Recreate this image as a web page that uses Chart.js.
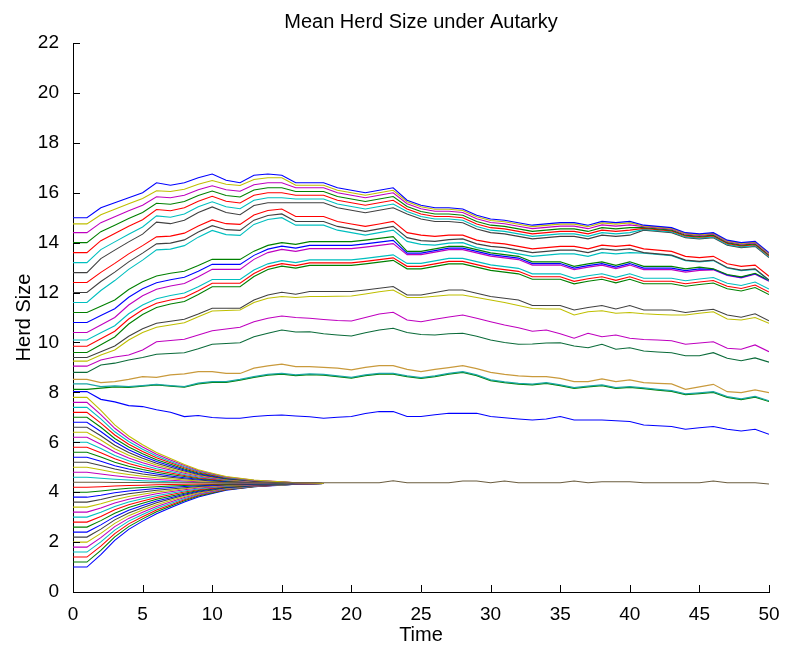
<!DOCTYPE html>
<html>
<head>
<meta charset="utf-8">
<script src="https://cdn.jsdelivr.net/npm/chart.js@4.4.1/dist/chart.umd.min.js"></script>
<style>
  body { margin: 0; background: #fff; }
  canvas { display: block; }
</style>
</head>
<body>
<canvas id="herdChart" width="786" height="654"></canvas>
<script>
// ---------------- data ----------------
const timeSteps = [0,1,2,3,4,5,6,7,8,9,10,11,12,13,14,15,16,17,18,19,20,21,22,23,24,25,
                   26,27,28,29,30,31,32,33,34,35,36,37,38,39,40,41,42,43,44,45,46,47,48,49,50];
const xTickValues = [0,5,10,15,20,25,30,35,40,45,50];
const yTickValues = [0,2,4,6,8,10,12,14,16,18,20,22];

// herds that start small (below ~8) and settle near 4.4 ; values for t = 0..18
const convergingHerds = [
  [1.0,1.0,1.5,2.07,2.51,2.84,3.14,3.38,3.61,3.81,3.95,4.08,4.15,4.22,4.25,4.28,4.32,4.33,4.35],
  [1.2,1.2,1.67,2.21,2.62,2.93,3.22,3.44,3.66,3.85,3.97,4.1,4.16,4.22,4.26,4.29,4.32,4.33,4.35],
  [1.4,1.4,1.84,2.34,2.73,3.02,3.29,3.49,3.7,3.88,4.0,4.11,4.17,4.23,4.26,4.29,4.32,4.34,4.35],
  [1.6,1.6,2.01,2.48,2.84,3.11,3.36,3.55,3.74,3.91,4.02,4.13,4.18,4.24,4.27,4.29,4.32,4.34,4.35],
  [1.8,1.8,2.18,2.62,2.95,3.2,3.43,3.61,3.79,3.94,4.04,4.15,4.2,4.25,4.27,4.3,4.32,4.34,4.35],
  [2.0,2.0,2.35,2.75,3.06,3.29,3.5,3.67,3.83,3.97,4.07,4.16,4.21,4.26,4.28,4.3,4.33,4.34,4.35],
  [2.2,2.2,2.52,2.89,3.17,3.38,3.58,3.73,3.88,4.01,4.09,4.18,4.22,4.26,4.29,4.31,4.33,4.34,4.35],
  [2.4,2.4,2.69,3.02,3.28,3.47,3.65,3.78,3.92,4.04,4.12,4.19,4.23,4.27,4.29,4.31,4.33,4.34,4.35],
  [2.6,2.6,2.86,3.16,3.39,3.56,3.72,3.84,3.96,4.07,4.14,4.21,4.24,4.28,4.3,4.31,4.33,4.34,4.35],
  [2.8,2.8,3.03,3.3,3.5,3.65,3.79,3.9,4.01,4.1,4.16,4.23,4.26,4.29,4.3,4.32,4.33,4.34,4.35],
  [3.0,3.0,3.2,3.43,3.61,3.74,3.86,3.96,4.05,4.13,4.19,4.24,4.27,4.3,4.31,4.32,4.34,4.34,4.35],
  [3.2,3.2,3.37,3.57,3.72,3.83,3.94,4.02,4.1,4.17,4.21,4.26,4.28,4.3,4.32,4.33,4.34,4.34,4.35],
  [3.4,3.4,3.54,3.7,3.83,3.92,4.01,4.07,4.14,4.2,4.24,4.27,4.29,4.31,4.32,4.33,4.34,4.35,4.35],
  [3.6,3.6,3.71,3.84,3.94,4.01,4.08,4.13,4.18,4.23,4.26,4.29,4.3,4.32,4.33,4.33,4.34,4.35,4.35],
  [3.8,3.8,3.88,3.98,4.05,4.1,4.15,4.19,4.23,4.26,4.28,4.31,4.32,4.33,4.33,4.34,4.34,4.35,4.35],
  [4.0,4.0,4.05,4.11,4.16,4.19,4.22,4.25,4.27,4.29,4.31,4.32,4.33,4.34,4.34,4.34,4.35,4.35,4.35],
  [4.2,4.2,4.22,4.25,4.27,4.28,4.3,4.31,4.32,4.33,4.33,4.34,4.34,4.35,4.35,4.35,4.35,4.35,4.35],
  [4.6,4.6,4.56,4.52,4.49,4.46,4.44,4.42,4.41,4.39,4.38,4.37,4.37,4.36,4.36,4.35,4.35,4.35,4.35],
  [4.8,4.8,4.73,4.66,4.6,4.55,4.51,4.48,4.45,4.42,4.4,4.39,4.38,4.37,4.36,4.36,4.35,4.35,4.35],
  [5.0,5.0,4.9,4.79,4.71,4.64,4.58,4.54,4.49,4.45,4.43,4.4,4.39,4.38,4.37,4.36,4.36,4.35,4.35],
  [5.2,5.2,5.07,4.93,4.82,4.73,4.66,4.6,4.54,4.49,4.45,4.42,4.4,4.38,4.38,4.37,4.36,4.35,4.35],
  [5.4,5.4,5.24,5.06,4.93,4.82,4.73,4.65,4.58,4.52,4.48,4.43,4.41,4.39,4.38,4.37,4.36,4.36,4.35],
  [5.6,5.6,5.41,5.2,5.04,4.91,4.8,4.71,4.63,4.55,4.5,4.45,4.43,4.4,4.39,4.38,4.36,4.36,4.35],
  [5.8,5.8,5.58,5.34,5.15,5.0,4.87,4.77,4.67,4.58,4.52,4.47,4.44,4.41,4.39,4.38,4.36,4.36,4.35],
  [6.0,6.0,5.75,5.47,5.26,5.09,4.94,4.83,4.71,4.61,4.55,4.48,4.45,4.42,4.4,4.38,4.37,4.36,4.35],
  [6.2,6.2,5.92,5.61,5.37,5.18,5.02,4.89,4.76,4.65,4.57,4.5,4.46,4.42,4.41,4.39,4.37,4.36,4.35],
  [6.4,6.4,6.09,5.74,5.48,5.27,5.09,4.94,4.8,4.68,4.6,4.51,4.47,4.43,4.41,4.39,4.37,4.36,4.35],
  [6.6,6.6,6.26,5.88,5.59,5.36,5.16,5.0,4.85,4.71,4.62,4.53,4.49,4.44,4.42,4.4,4.37,4.36,4.35],
  [6.8,6.8,6.43,6.02,5.7,5.45,5.23,5.06,4.89,4.74,4.64,4.55,4.5,4.45,4.42,4.4,4.37,4.36,4.35],
  [7.0,7.0,6.6,6.15,5.81,5.54,5.3,5.12,4.93,4.77,4.67,4.56,4.51,4.46,4.43,4.4,4.38,4.36,4.35],
  [7.2,7.2,6.77,6.29,5.92,5.63,5.38,5.18,4.98,4.81,4.69,4.58,4.52,4.46,4.44,4.41,4.38,4.36,4.35],
  [7.4,7.4,6.94,6.42,6.03,5.72,5.45,5.23,5.02,4.84,4.72,4.59,4.53,4.47,4.44,4.41,4.38,4.37,4.35],
  [7.6,7.6,7.11,6.56,6.14,5.81,5.52,5.29,5.07,4.87,4.74,4.61,4.55,4.48,4.45,4.42,4.38,4.37,4.35],
  [7.8,7.8,7.28,6.7,6.25,5.9,5.59,5.35,5.11,4.9,4.76,4.63,4.56,4.49,4.45,4.42,4.38,4.37,4.35]
];

// the settled herd that stays on top of the converged bundle up to t = 50
const settledHerd = [4.4,4.4,4.4,4.39,4.39,4.39,4.38,4.38,4.38,4.38,4.38,4.38,4.38,4.38,4.38,4.38,4.38,
  4.38,4.38,4.38,4.38,4.38,4.38,4.46,4.38,4.38,4.38,4.38,4.45,4.45,4.38,4.45,4.38,4.38,4.38,4.38,4.45,
  4.38,4.42,4.42,4.42,4.38,4.38,4.38,4.38,4.38,4.45,4.38,4.38,4.38,4.33];

// herds that start above ~8 ; values for t = 0..50
const herdFalling = [8.03,8.03,7.72,7.62,7.47,7.43,7.3,7.2,7.03,7.07,6.99,6.96,6.96,7.03,7.07,7.09,7.05,
  7.02,6.96,7.0,7.03,7.15,7.23,7.23,7.03,7.03,7.1,7.16,7.16,7.16,7.03,6.98,6.93,6.89,6.93,7.03,6.89,6.89,
  6.89,6.86,6.83,6.69,6.66,6.63,6.52,6.58,6.63,6.52,6.45,6.52,6.32];
const herdLowGreen = [8.12,8.12,8.17,8.22,8.2,8.25,8.3,8.25,8.21,8.34,8.4,8.4,8.49,8.6,8.69,8.73,8.67,
  8.71,8.69,8.63,8.57,8.67,8.73,8.73,8.63,8.56,8.63,8.73,8.8,8.67,8.47,8.39,8.33,8.3,8.36,8.27,8.16,8.22,
  8.27,8.16,8.2,8.15,8.09,8.04,7.91,7.95,8.0,7.8,7.71,7.81,7.63];
const herdLowCyan = [8.34,8.34,8.23,8.26,8.23,8.27,8.32,8.27,8.23,8.37,8.43,8.43,8.52,8.63,8.72,8.76,8.7,
  8.74,8.72,8.66,8.6,8.7,8.76,8.76,8.66,8.59,8.66,8.76,8.83,8.7,8.5,8.42,8.36,8.33,8.39,8.3,8.19,8.25,8.3,
  8.19,8.23,8.18,8.12,8.07,7.94,7.98,8.03,7.83,7.74,7.84,7.66];
const herdLowOrange = [8.52,8.52,8.39,8.43,8.52,8.63,8.6,8.7,8.74,8.83,8.83,8.76,8.76,8.97,9.06,9.13,9.03,
  9.03,9.0,8.97,8.9,9.0,9.07,9.07,8.92,8.83,8.92,8.99,9.07,8.95,8.8,8.72,8.66,8.63,8.63,8.56,8.43,8.43,
  8.54,8.43,8.5,8.39,8.36,8.34,8.12,8.22,8.32,8.03,7.99,8.1,7.99];
const herdMidGreen = [8.8,8.8,9.1,9.17,9.3,9.4,9.53,9.56,9.59,9.75,9.93,9.96,9.99,10.23,10.37,10.5,10.42,
  10.43,10.35,10.3,10.26,10.39,10.5,10.57,10.4,10.32,10.3,10.35,10.37,10.25,10.1,10.0,9.93,9.94,9.98,9.99,
  9.86,9.79,9.93,9.73,9.79,9.66,9.62,9.59,9.47,9.47,9.59,9.37,9.27,9.38,9.21];
const herdMidMagenta = [9.05,9.05,9.3,9.42,9.5,9.7,10.03,10.08,10.13,10.3,10.47,10.54,10.61,10.83,10.97,
  11.06,11.0,10.97,10.92,10.88,10.86,11.0,11.14,11.21,10.9,10.83,10.93,11.02,11.1,10.97,10.83,10.7,10.59,
  10.45,10.5,10.35,10.17,10.37,10.23,10.3,10.17,10.12,10.1,10.07,9.93,9.98,10.03,9.77,9.73,9.9,9.63];
const herdMidYellow = [9.25,9.25,9.5,9.7,10.1,10.4,10.61,10.7,10.79,11.03,11.26,11.28,11.3,11.6,11.77,
  11.84,11.8,11.84,11.84,11.85,11.86,11.94,12.03,12.1,11.8,11.8,11.85,11.9,11.9,11.8,11.7,11.6,11.48,
  11.36,11.34,11.34,11.1,11.23,11.27,11.17,11.2,11.15,11.12,11.1,11.1,11.17,11.23,10.94,10.9,11.0,10.77];
const herdMidGrey = [9.4,9.4,9.63,9.86,10.25,10.55,10.77,10.85,10.93,11.14,11.37,11.37,11.37,11.7,11.9,
  12.01,11.93,12.04,12.04,12.04,12.04,12.1,12.17,12.24,11.9,11.9,12.0,12.1,12.1,11.97,11.84,11.77,11.7,
  11.48,11.48,11.48,11.3,11.4,11.48,11.34,11.48,11.3,11.3,11.3,11.2,11.27,11.33,11.1,11.01,11.15,10.87];
const herdTierD = [
  [9.6,9.6,9.91,10.22,10.74,11.12,11.4,11.54,11.64,11.92,12.23,12.23,12.23,12.64,12.92,13.06,12.98,13.09,
   13.09,13.09,13.09,13.15,13.22,13.29,12.95,12.95,13.05,13.15,13.15,13.02,12.89,12.82,12.75,12.53,12.53,
   12.53,12.35,12.45,12.53,12.39,12.53,12.35,12.35,12.35,12.25,12.32,12.38,12.15,12.06,12.2,11.92],
  [9.85,9.85,10.15,10.45,10.94,11.31,11.57,11.7,11.8,12.07,12.37,12.37,12.37,12.76,13.03,13.16,13.08,13.19,
   13.19,13.19,13.19,13.25,13.32,13.39,13.05,13.05,13.15,13.25,13.25,13.12,12.99,12.92,12.85,12.63,12.63,
   12.63,12.45,12.55,12.63,12.49,12.63,12.45,12.45,12.45,12.35,12.42,12.48,12.25,12.16,12.3,12.02],
  [10.1,10.1,10.39,10.67,11.15,11.5,11.75,11.88,11.98,12.23,12.52,12.52,12.52,12.9,13.15,13.28,13.2,13.31,
   13.31,13.31,13.31,13.37,13.44,13.51,13.17,13.17,13.27,13.37,13.37,13.24,13.11,13.04,12.97,12.75,12.75,
   12.75,12.57,12.67,12.75,12.61,12.75,12.57,12.57,12.57,12.47,12.54,12.6,12.37,12.28,12.42,12.14]
];
const herdTierC = [
  [10.4,10.4,10.7,11.0,11.5,11.87,12.13,12.26,12.36,12.63,12.93,12.93,12.93,13.33,13.6,13.73,13.65,13.76,
   13.76,13.76,13.76,13.82,13.89,13.96,13.52,13.52,13.62,13.72,13.72,13.59,13.46,13.39,13.32,13.1,13.1,
   13.1,12.92,13.02,13.1,12.96,13.1,12.92,12.92,12.92,12.82,12.89,12.91,12.68,12.59,12.73,12.45],
  [10.8,10.8,11.08,11.35,11.81,12.15,12.39,12.51,12.61,12.85,13.13,13.13,13.13,13.49,13.74,13.86,13.78,
   13.89,13.89,13.89,13.89,13.95,14.02,14.09,13.58,13.58,13.68,13.78,13.78,13.65,13.52,13.45,13.38,13.16,
   13.16,13.16,12.98,13.08,13.16,13.02,13.16,12.98,12.98,12.98,12.88,12.95,12.93,12.7,12.61,12.75,12.47],
  [11.2,11.2,11.45,11.7,12.12,12.43,12.66,12.77,12.85,13.08,13.33,13.33,13.33,13.66,13.89,14.0,13.93,
   14.04,14.04,14.04,14.04,14.1,14.17,14.24,13.65,13.65,13.75,13.85,13.85,13.72,13.59,13.52,13.45,13.23,
   13.23,13.23,13.05,13.15,13.23,13.09,13.23,13.05,13.05,13.05,12.95,13.02,12.95,12.72,12.63,12.77,12.49]
];
const herdTierB = [
  [11.6,11.6,12.08,12.48,12.93,13.3,13.71,13.74,13.88,14.22,14.49,14.32,14.29,14.73,14.93,15.0,14.7,14.7,
   14.7,14.5,14.4,14.3,14.4,14.5,14.05,13.93,13.9,13.98,14.0,13.8,13.7,13.65,13.55,13.45,13.5,13.55,13.55,
   13.45,13.6,13.55,13.6,13.58,13.53,13.48,13.28,13.23,13.28,12.98,12.88,12.93,12.48],
  [12.0,12.0,12.44,12.82,13.23,13.58,13.95,13.98,14.11,14.43,14.68,14.52,14.49,14.9,15.09,15.15,14.85,
   14.85,14.85,14.65,14.55,14.45,14.55,14.65,14.2,14.08,14.05,14.12,14.15,13.95,13.85,13.8,13.7,13.6,
   13.65,13.7,13.7,13.6,13.75,13.7,13.75,13.6,13.55,13.5,13.3,13.25,13.3,13.0,12.9,12.95,12.5],
  [12.4,12.4,12.81,13.17,13.55,13.88,14.23,14.26,14.38,14.67,14.91,14.76,14.73,15.11,15.29,15.35,15.05,
   15.05,15.05,14.85,14.75,14.65,14.75,14.85,14.4,14.3,14.25,14.3,14.3,14.1,14.0,13.95,13.85,13.75,13.8,
   13.85,13.85,13.75,13.9,13.85,13.9,13.75,13.7,13.65,13.45,13.4,13.45,13.15,13.05,13.1,12.65]
];
const herdTierA = [
  [12.8,12.8,13.36,13.7,14.03,14.34,14.82,14.76,14.9,15.21,15.43,15.21,15.12,15.49,15.6,15.6,15.6,15.6,
   15.6,15.4,15.3,15.2,15.3,15.4,15.15,14.95,14.85,14.85,14.8,14.55,14.4,14.35,14.25,14.15,14.2,14.25,
   14.25,14.15,14.3,14.25,14.3,14.5,14.45,14.4,14.2,14.15,14.2,13.9,13.8,13.85,13.4],
  [13.2,13.2,13.72,14.03,14.34,14.63,15.07,15.02,15.15,15.44,15.64,15.44,15.36,15.7,15.8,15.8,15.75,15.75,
   15.75,15.55,15.45,15.35,15.45,15.55,15.25,15.05,14.95,14.95,14.9,14.65,14.5,14.45,14.35,14.25,14.3,
   14.35,14.35,14.25,14.4,14.35,14.4,14.53,14.48,14.43,14.23,14.18,14.23,13.93,13.83,13.88,13.43],
  [13.6,13.6,14.08,14.37,14.66,14.92,15.33,15.28,15.4,15.66,15.86,15.66,15.59,15.9,16.0,16.0,15.9,15.9,
   15.9,15.7,15.6,15.5,15.6,15.7,15.35,15.15,15.05,15.05,15.0,14.75,14.6,14.55,14.45,14.35,14.4,14.45,
   14.45,14.35,14.5,14.45,14.5,14.57,14.52,14.47,14.27,14.22,14.27,13.97,13.87,13.92,13.47],
  [14.0,14.0,14.44,14.7,14.97,15.21,15.58,15.54,15.65,15.89,16.07,15.89,15.83,16.11,16.2,16.2,16.05,
   16.05,16.05,15.85,15.75,15.65,15.75,15.85,15.45,15.25,15.15,15.15,15.1,14.85,14.7,14.65,14.55,14.45,
   14.5,14.55,14.55,14.45,14.6,14.55,14.6,14.6,14.55,14.5,14.3,14.25,14.3,14.0,13.9,13.95,13.5],
  [14.4,14.4,14.8,15.04,15.28,15.5,15.84,15.8,15.9,16.12,16.28,16.12,16.06,16.32,16.4,16.4,16.2,16.2,16.2,
   16.0,15.9,15.8,15.9,16.0,15.56,15.36,15.26,15.26,15.21,14.96,14.81,14.76,14.66,14.56,14.61,14.66,14.66,
   14.56,14.71,14.66,14.71,14.64,14.59,14.54,14.34,14.29,14.34,14.04,13.94,13.99,13.54],
  [14.75,14.75,15.12,15.34,15.56,15.77,16.08,16.05,16.14,16.34,16.49,16.34,16.29,16.53,16.6,16.6,16.3,
   16.3,16.3,16.1,16.0,15.9,16.0,16.1,15.64,15.44,15.34,15.34,15.29,15.04,14.89,14.84,14.74,14.64,14.69,
   14.74,14.74,14.64,14.79,14.74,14.79,14.67,14.62,14.57,14.37,14.32,14.37,14.07,13.97,14.02,13.57],
  [15.0,15.0,15.4,15.6,15.8,16.0,16.4,16.3,16.4,16.6,16.75,16.5,16.4,16.7,16.75,16.7,16.4,16.4,16.4,16.2,
   16.1,16.0,16.1,16.2,15.7,15.5,15.4,15.4,15.35,15.1,14.95,14.9,14.8,14.7,14.75,14.8,14.8,14.7,14.85,
   14.8,14.85,14.7,14.65,14.6,14.4,14.35,14.4,14.1,14.0,14.05,13.6]
];

// ---------------- styling ----------------
const matlabColors = ['#0000ff', '#008000', '#ff0000', '#00bfbf', '#bf00bf', '#bfbf00', '#404040'];
const col = { b: '#0000ff', g: '#008000', r: '#ff0000', c: '#00bfbf', m: '#bf00bf', y: '#bfbf00', k: '#404040' };
const fontFamily = '"Liberation Sans", Arial, Helvetica, sans-serif';
const tickFont = { family: fontFamily, size: 19 };
const labelFont = { family: fontFamily, size: 20 };

function toPoints(values) {
    return values.map((v, i) => ({ x: timeSteps[i], y: v }));
}

const drawList = [];
convergingHerds.forEach((h, i) => drawList.push({ values: h, color: matlabColors[i % 7] }));
drawList.push({ values: settledHerd, color: '#6b5d3f' });
drawList.push({ values: herdFalling, color: col.b });
drawList.push({ values: herdLowGreen, color: col.g });
drawList.push({ values: herdLowCyan, color: '#1aa5a5' });
drawList.push({ values: herdLowOrange, color: '#c99a3c' });
drawList.push({ values: herdMidGreen, color: '#0b6b3a' });
drawList.push({ values: herdMidMagenta, color: col.m });
drawList.push({ values: herdMidYellow, color: col.y });
drawList.push({ values: herdMidGrey, color: col.k });
['g', 'r', 'c'].forEach((c, i) => drawList.push({ values: herdTierD[i], color: col[c] }));
['m', 'b', 'g'].forEach((c, i) => drawList.push({ values: herdTierC[i], color: col[c] }));
['c', 'k', 'r'].forEach((c, i) => drawList.push({ values: herdTierB[i], color: col[c] }));
['k', 'c', 'r', 'g', 'm', 'y', 'b'].forEach((c, i) => drawList.push({ values: herdTierA[i], color: col[c] }));

const datasets = drawList.map((d, i) => ({
    data: toPoints(d.values),
    borderColor: d.color,
    borderWidth: 1.1,
    pointRadius: 0,
    tension: 0,
    fill: false,
    order: drawList.length - i
}));

// MATLAB style: inward tick marks and the title over the plot box
const matlabAxes = {
    id: 'matlabAxes',
    afterDraw(chart) {
        const { ctx, chartArea, scales } = chart;
        ctx.save();
        ctx.strokeStyle = '#000';
        ctx.lineWidth = 1;
        ctx.beginPath();
        xTickValues.forEach(v => {
            const px = Math.round(scales.x.getPixelForValue(v)) + 0.5;
            ctx.moveTo(px, chartArea.bottom);
            ctx.lineTo(px, chartArea.bottom - 7);
        });
        yTickValues.forEach(v => {
            const py = Math.round(scales.y.getPixelForValue(v)) + 0.5;
            ctx.moveTo(chartArea.left, py);
            ctx.lineTo(chartArea.left + 7, py);
        });
        ctx.stroke();
        ctx.fillStyle = '#000';
        ctx.font = labelFont.size + 'px ' + fontFamily;
        ctx.textAlign = 'center';
        ctx.textBaseline = 'middle';
        ctx.fillText('Mean Herd Size under Autarky', (chartArea.left + chartArea.right) / 2, 22);
        ctx.restore();
    }
};

new Chart(document.getElementById('herdChart').getContext('2d'), {
    type: 'line',
    data: { datasets: datasets },
    options: {
        responsive: false,
        animation: false,
        devicePixelRatio: 1,
        layout: { padding: { top: 43, right: 17, left: 0, bottom: 0 } },
        plugins: { legend: { display: false }, tooltip: { enabled: false }, title: { display: false } },
        scales: {
            x: {
                type: 'linear',
                min: 0,
                max: 50,
                afterBuildTicks: s => { s.ticks = xTickValues.map(v => ({ value: v })); },
                afterFit: s => { s.height = 62; },
                grid: { display: false },
                border: { display: true, color: '#000', width: 1 },
                ticks: { color: '#000', font: tickFont, padding: 3, maxRotation: 0, autoSkip: false },
                title: { display: true, text: 'Time', color: '#000', font: labelFont, padding: { top: 0, bottom: 7 } }
            },
            y: {
                min: 0,
                max: 22,
                afterBuildTicks: s => { s.ticks = yTickValues.map(v => ({ value: v })); },
                afterFit: s => { s.width = 73; },
                grid: { display: false },
                border: { display: true, color: '#000', width: 1 },
                ticks: { color: '#000', font: tickFont, padding: 6, autoSkip: false },
                title: { display: true, text: 'Herd Size', color: '#000', font: labelFont, padding: { top: 12, bottom: 0 } }
            }
        }
    },
    plugins: [matlabAxes]
});
</script>
</body>
</html>
